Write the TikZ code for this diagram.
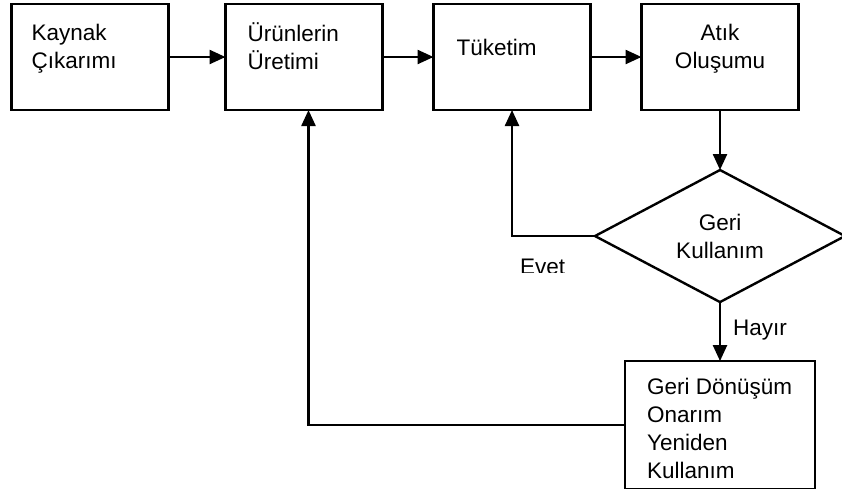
\documentclass[tikz,border=0pt]{standalone}
\usepackage{fontspec}
\setmainfont{Liberation Sans}
\usetikzlibrary{positioning,shapes.geometric,arrows.meta}
\tikzset{
  process/.style={draw=black,line width=2.4pt,minimum width=157pt,minimum height=106pt,inner sep=0pt,outer sep=0pt},
  decision/.style={diamond,draw=black,line width=2.4pt,minimum width=250pt,minimum height=128pt,inner sep=0pt,outer sep=0pt,align=center},
  flow/.style={line width=2.4pt,-{Triangle[length=16pt,width=14pt]}},
  boxtext/.style={anchor=north west,inner sep=0pt,align=left},
  plaintext/.style={anchor=base west,inner sep=0pt}
}
\newcommand{\flowfont}{\fontsize{22.5}{28}\selectfont}

\begin{document}
\begin{tikzpicture}[x=1pt,y=-1pt,node distance=51pt and 51pt,font=\flowfont]
      \useasboundingbox (0,0) rectangle (842,488);
      \node[process] (kaynak) at (90,57) {};
      \node[process,right=57pt of kaynak] (uretim) {};
      \node[process,right=of uretim] (tuketim) {};
      \node[process,right=of tuketim] (atik) {};
      \node[decision,below=60pt of atik] (geri) {Geri\\Kullanım};
      \node[process,minimum width=190pt,minimum height=128pt,below=59pt of geri] (donusum) {};
      \node[boxtext] (kaynakText) at ([shift={(20,16.5)}]kaynak.north west) {\strut Kaynak\\Çıkarımı};
      \node[boxtext] (uretimText) at ([shift={(22,17.5)}]uretim.north west) {\strut Ürünlerin\\Üretimi};
      \node[boxtext] (tuketimText) at ([shift={(23,31.5)}]tuketim.north west) {\strut Tüketim};
      \node[boxtext,anchor=north,align=center] (atikText) at ([shift={(0,16.5)}]atik.north) {\strut Atık\\Oluşumu};
      \node[boxtext] (donusumText) at ([shift={(22,13.5)}]donusum.north west) {\strut Geri Dönüşüm\\Onarım\\Yeniden\\Kullanım};
      \node[plaintext] (hayir) at (733,335) {Hayır};
      \begin{scope}
        \clip (500,250) rectangle (600,272);
        \node[plaintext] (evet) at (520,274) {Evet};
      \end{scope}
      \draw[flow] (kaynak) -- (uretim);
      \draw[flow] (uretim) -- (tuketim);
      \draw[flow] (tuketim) -- (atik);
      \draw[flow] (atik) -- (geri);
      \draw[flow] (geri) -- (donusum);
      \draw[flow] (geri.west) -| (tuketim.south);
      \draw[flow] (donusum.west) -| ([xshift=4.5pt]uretim.south);
    \end{tikzpicture}
\end{document}
